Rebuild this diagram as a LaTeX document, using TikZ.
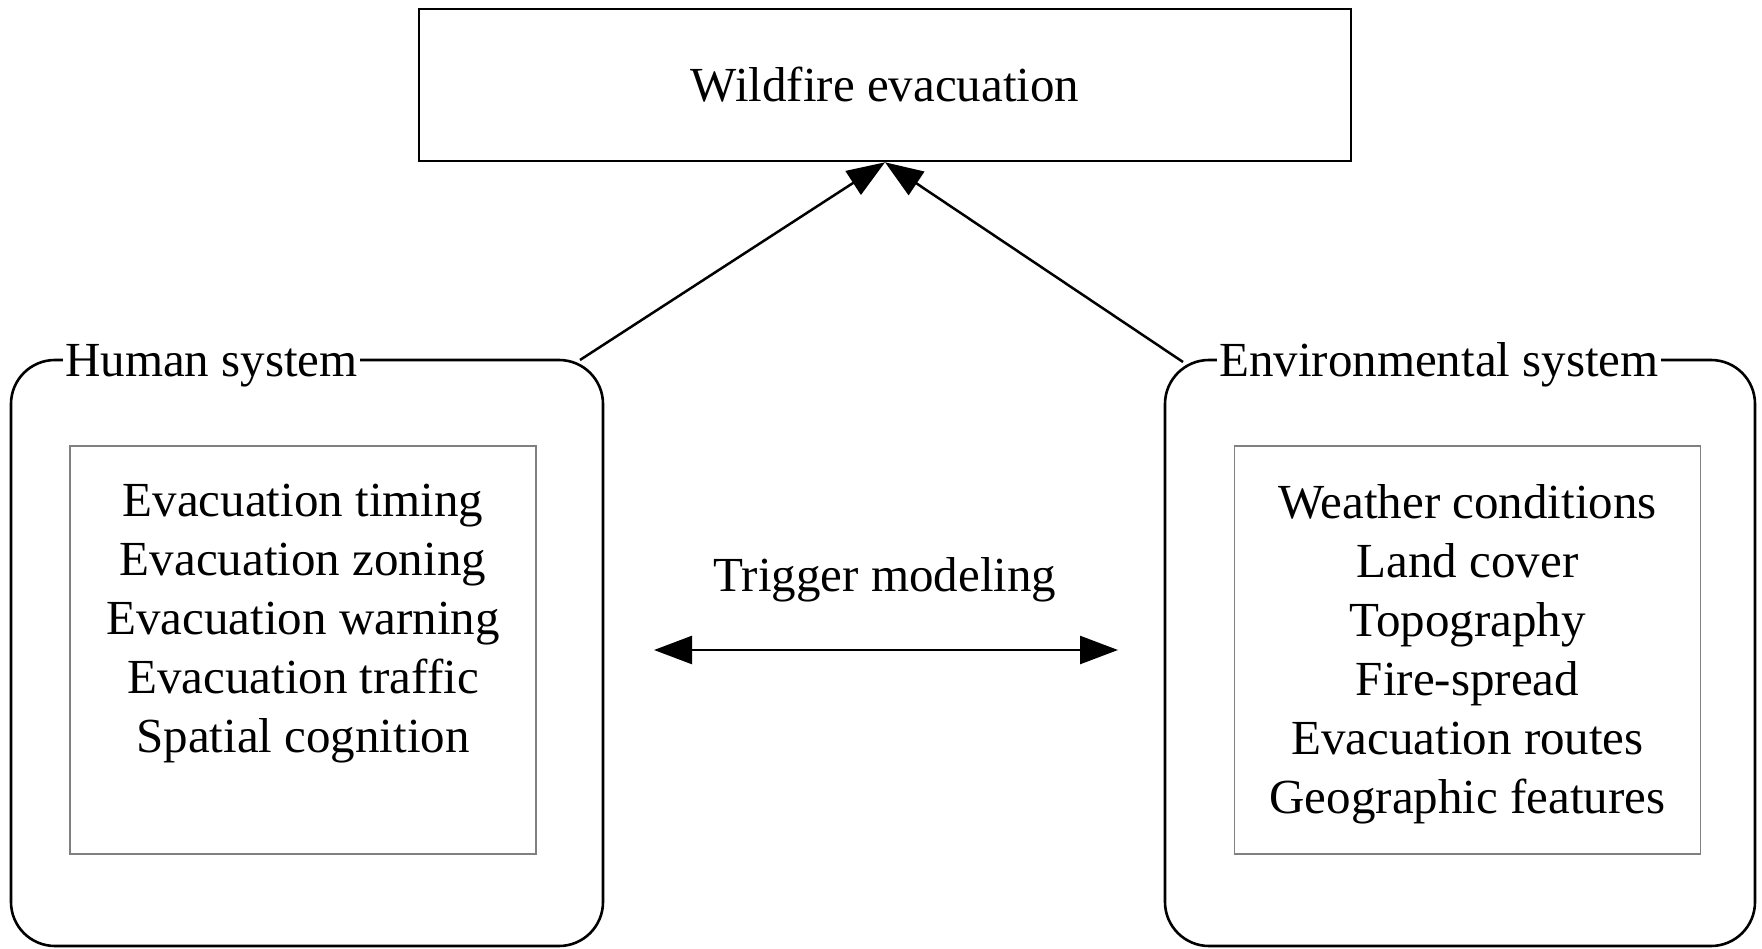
\documentclass[tikz,border=0pt]{standalone}
\usepackage{fontspec}
\setmainfont{Liberation Serif}
\usetikzlibrary{arrows.meta}

\begin{document}
\begin{tikzpicture}[x=1pt,y=-1pt,
  txt/.style={font=\fontsize{49}{59}\selectfont, inner sep=0pt},
  topbox/.style={draw, line width=2.6pt, minimum width=932pt, minimum height=152pt, inner sep=0pt},
  sysbox/.style={draw, line width=2.6pt, rounded corners=44pt, inner sep=0pt},
  listbox/.style={draw=black!50, line width=1.4pt, inner sep=0pt, minimum width=466pt, minimum height=408pt},
  systitle/.style={txt, fill=white, inner xsep=2pt, anchor=base west},
  arr/.style={-{Triangle[length=38pt,width=28pt]}, line width=2.5pt},
  dblarr/.style={{Triangle[length=38pt,width=28pt]}-{Triangle[length=38pt,width=28pt]}, line width=2.5pt}]

\useasboundingbox (0,0) rectangle (1762,949);

% goal box
\node[topbox] (goal) at (885,85) {};
\node[txt] (goallbl) at (goal.center) {Wildfire evacuation};

% two systems
\node[sysbox, minimum width=592pt, minimum height=586pt] (human) at (307,653) {};
\node[sysbox, minimum width=590pt, minimum height=586pt] (env) at (1460,653) {};
\node[systitle] (humantitle) at (63,377) {Human system};
\node[systitle] (envtitle) at (1217,377) {Environmental system};

% factor lists
\node[listbox] (hlist) at (303,650) {};
\node[listbox] (elist) at (1467.5,650) {};
\node[txt, align=center, anchor=north] (htext) at (303,484)
  {Evacuation timing\\Evacuation zoning\\Evacuation warning\\Evacuation traffic\\Spatial cognition};
\node[txt, align=center, anchor=north] (etext) at (1467.5,484)
  {Weather conditions\\Land cover\\Topography\\Fire-spread\\Evacuation routes\\Geographic features};

% links to the goal
\coordinate (hout) at (580,360);
\coordinate (eout) at (1183,362);
\draw[arr] (hout) -- (goal.south);
\draw[arr] (eout) -- (goal.south);

% coupling between the systems
\node[txt, anchor=base] (trig) at (885,591) {Trigger modeling};
\coordinate (tl) at (654,650);
\coordinate (tr) at (1118,650);
\draw[dblarr] (tl) -- (tr);

\end{tikzpicture}
\end{document}
